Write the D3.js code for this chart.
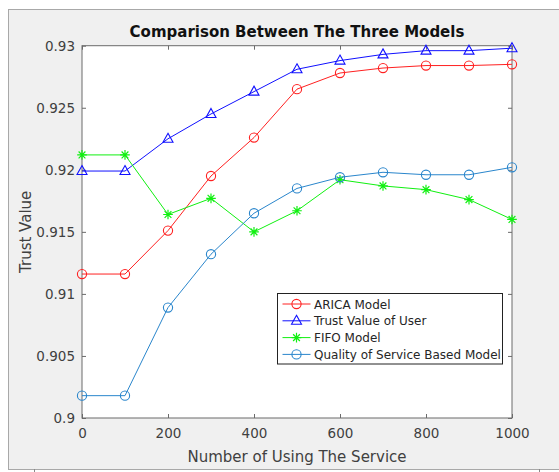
<!DOCTYPE html>
<html>
<head>
<meta charset="utf-8">
<script src="https://cdn.jsdelivr.net/npm/d3@7"></script>
<style>
  body { margin: 0; background: #fff; }
  svg { display: block; font-family: "DejaVu Sans", sans-serif; }
</style>
</head>
<body>
<div id="chart-area"></div>
<script>

var xValues = [0, 100, 200, 300, 400, 500, 600, 700, 800, 900, 1000];
var aricaModel = [0.9116, 0.9116, 0.9151, 0.9195, 0.9226, 0.9265, 0.9278, 0.9282, 0.9284, 0.9284, 0.9285];
var trustValueOfUser = [0.9199, 0.9199, 0.9225, 0.9245, 0.9263, 0.9281, 0.9288, 0.9293, 0.9296, 0.9296, 0.9298];
var fifoModel = [0.9212, 0.9212, 0.9164, 0.9177, 0.9150, 0.9167, 0.9192, 0.9187, 0.9184, 0.9176, 0.9160];
var qosModel = [0.9018, 0.9018, 0.9089, 0.9132, 0.9165, 0.9185, 0.9194, 0.9198, 0.9196, 0.9196, 0.9202];
var xTicks = [0, 200, 400, 600, 800, 1000];
var yTicks = [0.9, 0.905, 0.91, 0.915, 0.92, 0.925, 0.93];
var seriesNames = ["ARICA Model", "Trust Value of User", "FIFO Model", "Quality of Service Based Model"];

var W = 559, H = 472;
var margin = { top: 45.7, right: 47, bottom: 54, left: 82 },
    width = W - margin.left - margin.right,
    height = H - margin.top - margin.bottom;

var root = d3.select("#chart-area")
    .append("svg")
    .attr("width", W)
    .attr("height", H);

// figure window background
root.append("rect")
    .attr("x", 8.5).attr("y", 9.5)
    .attr("width", W).attr("height", 460)
    .attr("fill", "#f0f0f0")
    .attr("stroke", "#a8a8a8");
root.append("line").attr("x1", 34.5).attr("x2", 34.5).attr("y1", 469).attr("y2", 472).attr("stroke", "#888");
root.append("line").attr("x1", 539.5).attr("x2", 539.5).attr("y1", 469).attr("y2", 472).attr("stroke", "#888");

var svg = root.append("g")
    .attr("transform", "translate(" + margin.left + "," + margin.top + ")");

var xScale = d3.scaleLinear().domain([0, 1000]).range([0, width]);
var yScale = d3.scaleLinear().domain([0.9, 0.93]).range([height, 0]);

svg.append("rect")
    .attr("width", width)
    .attr("height", height)
    .attr("fill", "#fff");

var axisColor = "#6b6b6b";
var labelColor = "#404040";

function styleAxis(g, hideText) {
    g.select(".domain").remove();
    g.selectAll(".tick line").attr("stroke", axisColor);
    g.selectAll(".tick text")
        .attr("fill", labelColor)
        .style("font-size", "13.5px")
        .style("font-family", "DejaVu Sans, sans-serif");
    if (hideText) g.selectAll(".tick text").remove();
}

svg.append("g")
    .attr("transform", "translate(0," + height + ")")
    .call(d3.axisBottom(xScale).tickValues(xTicks).tickSize(-4).tickPadding(10).tickFormat(d3.format("d")))
    .call(function(g) { styleAxis(g, false); });

svg.append("g")
    .call(d3.axisTop(xScale).tickValues(xTicks).tickSize(-4))
    .call(function(g) { styleAxis(g, true); });

svg.append("g")
    .call(d3.axisLeft(yScale).tickValues(yTicks).tickSize(-4).tickPadding(7).tickFormat(function(d) { return d3.format("")(+d.toFixed(3)); }))
    .call(function(g) { styleAxis(g, false); });

svg.append("g")
    .attr("transform", "translate(" + width + ",0)")
    .call(d3.axisRight(yScale).tickValues(yTicks).tickSize(-4))
    .call(function(g) { styleAxis(g, true); });

// axes box
svg.append("rect")
    .attr("width", width)
    .attr("height", height)
    .attr("fill", "none")
    .attr("stroke", axisColor)
    .attr("stroke-width", 1);

var colors = ["#ff2020", "#1010ff", "#10f010", "#2a86cc"];
var markers = ["circle", "triangle", "star", "circle"];
var allSeries = [aricaModel, trustValueOfUser, fifoModel, qosModel];

var line = d3.line()
    .x(function(d, i) { return xScale(xValues[i]); })
    .y(function(d) { return yScale(d); });

function drawMarker(g, type, cx, cy, color) {
    if (type === "circle") {
        g.append("circle")
            .attr("cx", cx).attr("cy", cy).attr("r", 4.6)
            .attr("fill", "none").attr("stroke", color).attr("stroke-width", 1.1);
    } else if (type === "triangle") {
        g.append("path")
            .attr("d", "M" + cx + "," + (cy - 5.5) + "L" + (cx + 5) + "," + (cy + 3.5) + "L" + (cx - 5) + "," + (cy + 3.5) + "Z")
            .attr("fill", "none").attr("stroke", color).attr("stroke-width", 1.1);
    } else {
        var r = 4.8, s = "";
        [0, 45, 90, 135].forEach(function(a) {
            var rad = a * Math.PI / 180;
            s += "M" + (cx - r * Math.cos(rad)) + "," + (cy - r * Math.sin(rad)) +
                 "L" + (cx + r * Math.cos(rad)) + "," + (cy + r * Math.sin(rad));
        });
        g.append("path").attr("d", s).attr("stroke", color).attr("stroke-width", 1.2);
    }
}

allSeries.forEach(function(values, k) {
    svg.append("path")
        .datum(values)
        .attr("fill", "none")
        .attr("stroke", colors[k])
        .attr("stroke-width", 1)
        .attr("d", line);
    var mg = svg.append("g");
    values.forEach(function(v, i) {
        drawMarker(mg, markers[k], xScale(xValues[i]), yScale(v), colors[k]);
    });
});

// title and labels
svg.append("text")
    .attr("x", width / 2)
    .attr("y", -9)
    .attr("text-anchor", "middle")
    .attr("fill", "#111")
    .style("font-size", "15px")
    .style("font-weight", "bold")
    .text("Comparison Between The Three Models");

svg.append("text")
    .attr("x", width / 2)
    .attr("y", height + 44)
    .attr("text-anchor", "middle")
    .attr("fill", labelColor)
    .style("font-size", "15px")
    .text("Number of Using The Service");

svg.append("text")
    .attr("transform", "rotate(-90)")
    .attr("x", -height / 2)
    .attr("y", -51)
    .attr("text-anchor", "middle")
    .attr("fill", labelColor)
    .style("font-size", "15px")
    .text("Trust Value");

// legend
var lx = 277.5 - margin.left, ly = 293.5 - margin.top;
var legend = svg.append("g").attr("transform", "translate(" + lx + "," + ly + ")");
legend.append("rect")
    .attr("width", 225)
    .attr("height", 70.5)
    .attr("fill", "#fff")
    .attr("stroke", "#222")
    .attr("stroke-width", 1);

seriesNames.forEach(function(name, k) {
    var yy = 10.5 + k * 16.8;
    legend.append("line")
        .attr("x1", 5).attr("x2", 33)
        .attr("y1", yy).attr("y2", yy)
        .attr("stroke", colors[k]);
    drawMarker(legend, markers[k], 19, yy, colors[k]);
    legend.append("text")
        .attr("x", 36.5)
        .attr("y", yy + 4.5)
        .attr("fill", "#262626")
        .style("font-size", "12px")
        .text(name);
});

</script>
</body>
</html>
